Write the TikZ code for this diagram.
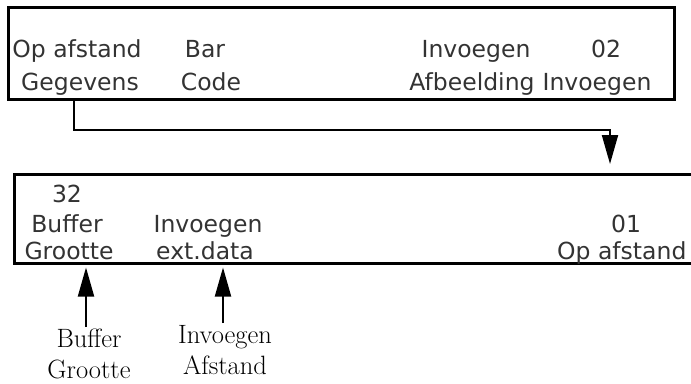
\documentclass[tikz,border=0pt]{standalone}
\usepackage{fontspec}
\newfontfamily\scr{DejaVu Sans}
\usetikzlibrary{arrows.meta}
\begin{document}
\begin{tikzpicture}[x=1pt,y=-1pt,
  screenbox/.style={draw=black,line width=2.5pt,inner sep=0pt,anchor=north west},
  scrtext/.style={inner sep=0pt,anchor=base,font=\scr\fontsize{23.5}{28}\selectfont,text=black!80},
  labtext/.style={inner sep=0pt,anchor=north,align=center,font=\fontsize{26.5}{31}\selectfont},
  conn/.style={line width=2pt,-{Triangle[length=29pt,width=16pt]}}]
\useasboundingbox (0,0) rectangle (691,383);
\clip (0,0) rectangle (691,383);
% top screen
\node[screenbox,minimum width=666pt,minimum height=92pt] (box1) at (7,6) {};
\node[scrtext] (t11) at (77,57) {Op afstand};
\node[scrtext] (t12) at (80,90) {Gegevens};
\node[scrtext] (t21) at (205,57) {Bar};
\node[scrtext] (t22) at (211,90) {Code};
\node[scrtext] (t31) at (476,57) {Invoegen};
\node[scrtext] (t32) at (472,90) {Afbeelding};
\node[scrtext] (t41) at (606,57) {02};
\node[scrtext] (t42) at (597,90) {Invoegen};
% bottom screen
\node[screenbox,minimum width=720pt,minimum height=89pt] (box2) at (13,173) {};
\node[scrtext] (b11) at (67,202) {32};
\node[scrtext] (b12) at (67,232) {Buffer};
\node[scrtext] (b13) at (69,259) {Grootte};
\node[scrtext] (b22) at (208,232) {Invoegen};
\node[scrtext] (b23) at (205,259) {ext.data};
\node[scrtext] (b31) at (626,232) {01};
\node[scrtext,anchor=base west] (b32) at (557,259) {Op afstand};
% connector between screens
\draw[conn,shorten >=9pt] (box1.south -| 74,0) -- ++(0,29) -| (box2.north -| 610,0);
% labels
\node[labtext] (lab1) at (89,329) {Buffer\\Grootte};
\node[labtext] (lab2) at (225,325) {Invoegen\\Afstand};
\draw[conn,shorten >=3pt] ([yshift=2pt]lab1.north -| 86,0) -- (box2.south -| 86,0);
\draw[conn,shorten >=3pt] ([yshift=2pt]lab2.north -| 223,0) -- (box2.south -| 223,0);
\end{tikzpicture}
\end{document}
